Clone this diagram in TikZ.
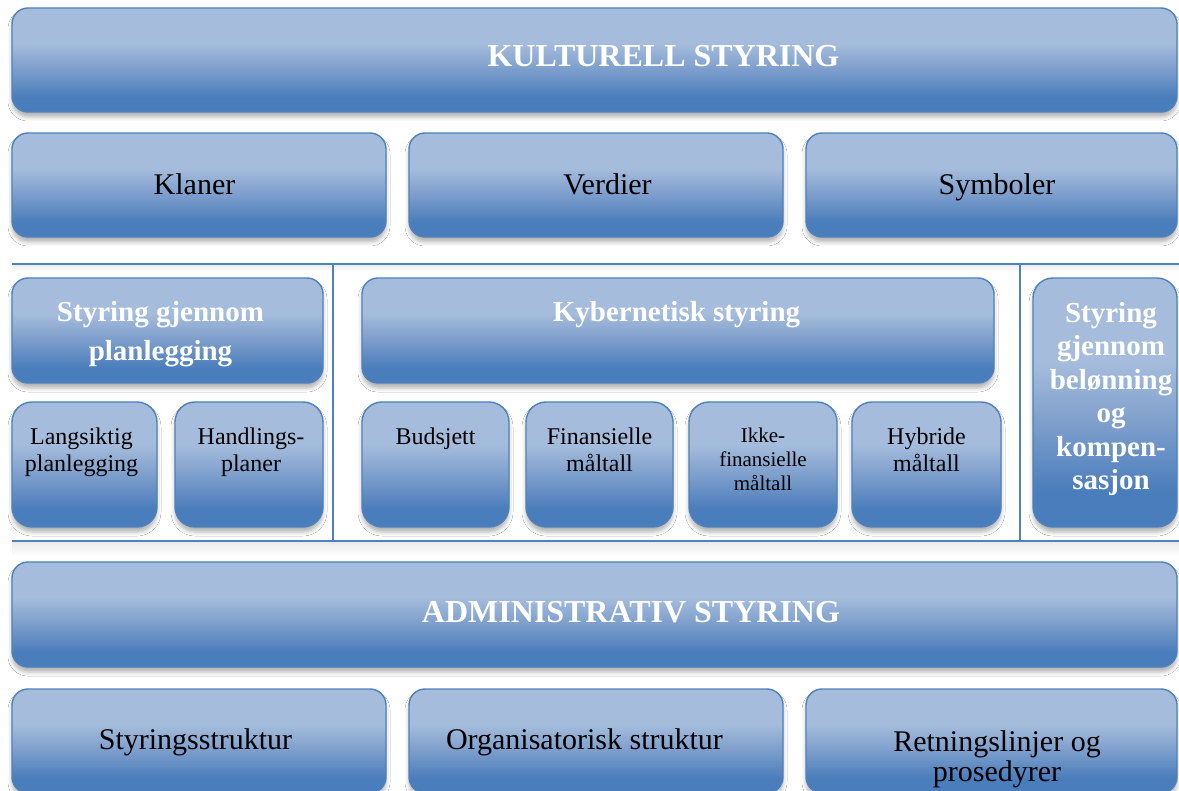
\documentclass[tikz,border=0pt]{standalone}
\usepackage{fontspec}
\setmainfont{Liberation Serif}
\usetikzlibrary{shadows.blur}

\definecolor{edge}{RGB}{79,129,189}
\definecolor{boxlight}{RGB}{165,188,220}
\definecolor{boxmid}{RGB}{126,159,204}
\definecolor{boxdark}{RGB}{74,125,187}

% light at the top, darkening towards the lower edge
\pgfdeclareverticalshading{panelshade}{100bp}{%
  color(0bp)=(boxdark); color(25bp)=(boxdark); color(32bp)=(boxdark);
  color(46bp)=(boxmid); color(58bp)=(boxlight); color(75bp)=(boxlight);
  color(100bp)=(boxlight)}

\tikzset{
  panel/.style={draw=edge, line width=1.4pt, rounded corners=16pt,
    shade, shading=panelshade, inner sep=0pt,
    blur shadow={shadow xshift=0pt, shadow yshift=-5pt,
      shadow blur radius=4pt, shadow opacity=30}},
  tile/.style={panel, rounded corners=20pt},
  bighead/.style={text=white, inner sep=0pt, anchor=base, font=\bfseries\fontsize{32}{38}\selectfont},
  subhead/.style={text=white, inner sep=0pt, align=center, font=\bfseries\fontsize{29}{39}\selectfont},
  plain/.style={text=black, inner sep=0pt, anchor=base, font=\fontsize{30}{30}\selectfont},
  small/.style={text=black, inner sep=0pt, align=center, anchor=north,
    font=\fontsize{24}{27}\selectfont},
  divider/.style={draw=edge, line width=1.5pt}
}

\begin{document}
\begin{tikzpicture}[x=1pt, y=-1pt]
\useasboundingbox (0,0) rectangle (1179,791);
\fill[white] (0,0) rectangle (1179,791);
\clip (0,0) rectangle (1179,791);

% separators around the middle band, with a soft fade below each rule
\coordinate (lt) at (12,264);
\coordinate (rt) at (1179,264);
\coordinate (lb) at (12,541);
\coordinate (rb) at (1179,541);
\coordinate (v1t) at (333,264);
\coordinate (v1b) at (333,541);
\coordinate (v2t) at (1020,264);
\coordinate (v2b) at (1020,541);
\shade[top color=black!7, bottom color=white] (12,265) rectangle (1179,272);
\shade[top color=black!8, bottom color=white] (12,542) rectangle (1179,556);
\draw[divider] (lt) -- (rt);
\draw[divider] (lb) -- (rb);
\draw[divider] (v1t) -- (v1b);
\draw[divider] (v2t) -- (v2b);

% cultural control
\node[panel, minimum width=1165pt, minimum height=104pt] (kult) at (594.5,60) {};
\node[bighead] (kulttxt) at (663.5,67) {KULTURELL STYRING};

\node[panel, minimum width=374pt, minimum height=104pt] (klaner) at (199,185) {};
\node[plain] (klanertxt) at (194.5,195) {Klaner};
\node[panel, minimum width=374pt, minimum height=104pt] (verdier) at (596,185) {};
\node[plain] (verdiertxt) at (607.5,195) {Verdier};
\node[panel, minimum width=371pt, minimum height=104pt] (symboler) at (991.5,185) {};
\node[plain] (symbolertxt) at (997,195) {Symboler};

% planning
\node[panel, minimum width=311pt, minimum height=105pt] (plan) at (167.5,330.5) {};
\node[subhead] (plantxt) at (160.5,334.5) {Styring gjennom\\planlegging};
\node[tile, minimum width=145pt, minimum height=125pt] (lang) at (84.5,464.5) {};
\node[small] (langtxt) at ([xshift=-3pt, yshift=-26pt]lang.north) {Langsiktig\\planlegging};
\node[tile, minimum width=148pt, minimum height=125pt] (handl) at (249,464.5) {};
\node[small] (handltxt) at ([xshift=2pt, yshift=-26pt]handl.north) {Handlings-\\planer};

% cybernetic control
\node[panel, minimum width=632pt, minimum height=105pt] (kyber) at (678,330.5) {};
\node[subhead, anchor=base] (kybertxt) at (676.5,322) {Kybernetisk styring};
\node[tile, minimum width=147pt, minimum height=125pt] (budsj) at (435.5,464.5) {};
\node[small] (budsjtxt) at ([yshift=-26pt]budsj.north) {Budsjett};
\node[tile, minimum width=147pt, minimum height=125pt] (finans) at (599.5,464.5) {};
\node[small] (finanstxt) at ([yshift=-26pt]finans.north) {Finansielle\\måltall};
\node[tile, minimum width=148pt, minimum height=125pt] (ikke) at (763,464.5) {};
\node[small, font=\fontsize{21}{24}\selectfont] (ikketxt) at ([yshift=-26pt]ikke.north)
  {Ikke-\\finansielle\\måltall};
\node[tile, minimum width=149pt, minimum height=125pt] (hybr) at (926.5,464.5) {};
\node[small] (hybrtxt) at ([yshift=-26pt]hybr.north) {Hybride\\måltall};

% rewards
\node[tile, minimum width=144pt, minimum height=249pt] (belon) at (1105,402.5) {};
\node[subhead, font=\bfseries\fontsize{29}{33.4}\selectfont] (belontxt) at (1111,399)
  {Styring\\gjennom\\belønning\\og\\kompen-\\sasjon};

% administrative control
\node[panel, minimum width=1165pt, minimum height=105pt] (admin) at (594.5,614.5) {};
\node[bighead] (admintxt) at (631,622) {ADMINISTRATIV STYRING};

\node[panel, minimum width=374pt, minimum height=104pt] (struktur) at (199,741) {};
\node[plain] (strukturtxt) at (195.5,749) {Styringsstruktur};
\node[panel, minimum width=374pt, minimum height=104pt] (org) at (596,741) {};
\node[plain] (orgtxt) at (584.5,749) {Organisatorisk struktur};
\node[panel, minimum width=371pt, minimum height=104pt] (retn) at (991.5,741) {};
\node[plain, align=center, anchor=north] (retntxt) at (997,730) {Retningslinjer og\\prosedyrer};
\end{tikzpicture}
\end{document}
